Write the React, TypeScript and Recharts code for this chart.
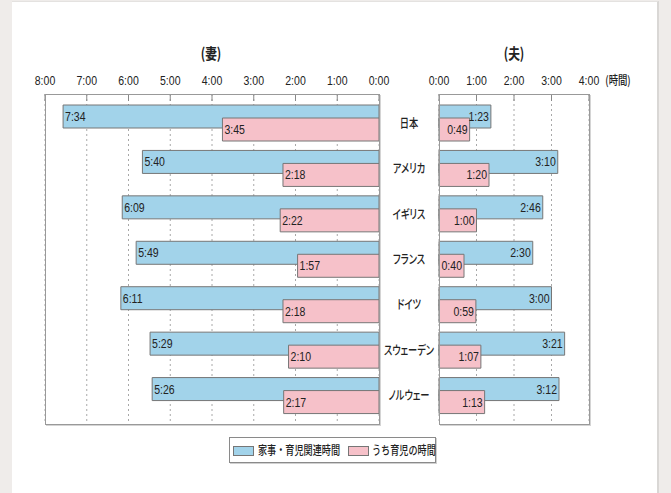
import React from 'react';
import { BarChart, Bar, XAxis, YAxis, CartesianGrid, LabelList } from 'recharts';

const countries = ['日本', 'アメリカ', 'イギリス', 'フランス', 'ドイツ', 'スウェーデン', 'ノルウェー'];
// minutes per day
const wifeTotal = [454, 340, 369, 349, 371, 329, 326];
const wifeChild = [225, 138, 142, 117, 138, 130, 137];
const husbandTotal = [83, 190, 166, 150, 180, 201, 192];
const husbandChild = [49, 80, 60, 40, 59, 67, 73];
const wifeTicks = [0, 60, 120, 180, 240, 300, 360, 420, 480];
const husbandTicks = [0, 60, 120, 180, 240];
const seriesNames = ['家事・育児関連時間', 'うち育児の時間'];
const titles = ['(妻)', '(夫)'];
const unitLabel = '(時間)';

const wifeData = countries.map((c, i) => ({ country: c, total: wifeTotal[i], child: wifeChild[i] }));
const husbandData = countries.map((c, i) => ({ country: c, total: husbandTotal[i], child: husbandChild[i] }));

const BLUE = '#a2d3ea';
const PINK = '#f6c1c9';
const EDGE = '#767676';
const NUM_FONT = '"Liberation Sans", Arial, sans-serif';
const JP_FONT = '"Noto Sans CJK JP", "Noto Sans", sans-serif';

const fmt = (m: number) => `${Math.floor(m / 60)}:${String(m % 60).padStart(2, '0')}`;

// narrow numerals, squeezed around their anchor point
const NumText = ({ x, y, anchor, children }: { x: number; y: number; anchor: 'start' | 'middle' | 'end'; children: React.ReactNode }) => (
  <text transform={`translate(${x},${y}) scale(0.78,1)`} textAnchor={anchor} fontSize={13.5} fill="#222" fontFamily={NUM_FONT}>
    {children}
  </text>
);

const TimeTick = (props: any) => {
  const x = Number(props.x), y = Number(props.y);
  return (
    <g>
      <NumText x={x} y={y} anchor="middle">{fmt(props.payload.value)}</NumText>
      <line x1={x} x2={x} y1={y + 9} y2={y + 16} stroke="#888" />
    </g>
  );
};

const CountryTick = (props: any) => {
  const { x, y, payload } = props;
  const cx = Number(x) + 30;
  return (
    <text
      transform={`translate(${cx},${Number(y) + 5}) scale(0.74,1)`}
      textAnchor="middle"
      fontSize={12.5}
      fontWeight={500}
      fill="#222"
      fontFamily={JP_FONT}
      style={{ fontFeatureSettings: '"palt"' }}
    >
      {payload.value}
    </text>
  );
};

const LeftLabel = (props: any) => {
  const x = Number(props.x), y = Number(props.y), w = Number(props.width), h = Number(props.height);
  return <NumText x={Math.min(x, x + w) + 2} y={y + h / 2 + 4.5} anchor="start">{fmt(props.value)}</NumText>;
};

const RightLabel = (props: any) => {
  const x = Number(props.x), y = Number(props.y), w = Number(props.width), h = Number(props.height);
  return <NumText x={Math.max(x, x + w) - 2} y={y + h / 2 + 4.5} anchor="end">{fmt(props.value)}</NumText>;
};

const frame = (left: number, width: number): React.CSSProperties => ({
  position: 'absolute',
  left,
  top: 94,
  width,
  height: 331,
  border: '1px solid #999',
  boxSizing: 'border-box',
  boxShadow: '1px 1px 0 #d4d4d4',
  pointerEvents: 'none',
});

const jpText = (cx: number, cy: number, size: number, text: string, bold = false): React.ReactNode => (
  <div
    style={{
      position: 'absolute',
      left: cx - 60,
      top: cy - size * 0.7,
      width: 120,
      textAlign: 'center',
      fontFamily: JP_FONT,
      fontSize: size,
      fontWeight: bold ? 700 : 500,
      color: '#222',
      lineHeight: `${size * 1.4}px`,
      transform: 'scaleX(0.78)',
      whiteSpace: 'nowrap',
    }}
  >
    {text}
  </div>
);

export default function App() {
  return (
    <div style={{ position: 'absolute', left: 0, top: 0, width: 671, height: 493, background: '#efecea', overflow: 'hidden' }}>
      <div
        style={{
          position: 'absolute',
          left: 12,
          top: 1,
          width: 645,
          height: 492,
          background: '#fff',
          borderRight: '2px solid #d9d7d5',
          borderTop: '1px solid #e4e2e0',
        }}
      />

      {jpText(211, 52, 15, titles[0], true)}
      {jpText(514, 52, 15, titles[1], true)}
      {jpText(618, 80, 12, unitLabel)}

      <div style={{ position: 'absolute', left: 0, top: 0 }}>
        <BarChart
          width={440}
          height={430}
          data={wifeData}
          layout="vertical"
          barGap={-10}
          margin={{ top: 64, right: 1, bottom: 6, left: 45 }}
        >
          <CartesianGrid horizontal={false} stroke="#a8a8a8" strokeDasharray="2 3" />
          <XAxis
            type="number"
            orientation="top"
            reversed
            domain={[0, 480]}
            ticks={wifeTicks}
            height={30}
            axisLine={false}
            tickLine={false}
            tickSize={0}
            tickMargin={9}
            interval={0}
            tick={<TimeTick />}
          />
          <YAxis
            type="category"
            dataKey="country"
            orientation="right"
            width={60}
            axisLine={false}
            tickLine={false}
            tickSize={0}
            tickMargin={0}
            padding={{ top: 6, bottom: 6 }}
            interval={0}
            tick={<CountryTick />}
          />
          <Bar dataKey="total" name={seriesNames[0]} fill={BLUE} stroke={EDGE} strokeWidth={1} barSize={23} isAnimationActive={false}>
            <LabelList dataKey="total" content={<LeftLabel />} />
          </Bar>
          <Bar dataKey="child" name={seriesNames[1]} fill={PINK} stroke={EDGE} strokeWidth={1} barSize={23} isAnimationActive={false}>
            <LabelList dataKey="child" content={<LeftLabel />} />
          </Bar>
        </BarChart>
      </div>

      <div style={{ position: 'absolute', left: 400, top: 0 }}>
        <BarChart
          width={230}
          height={430}
          data={husbandData}
          layout="vertical"
          barGap={-10}
          margin={{ top: 64, right: 41, bottom: 6, left: 39 }}
        >
          <CartesianGrid horizontal={false} stroke="#a8a8a8" strokeDasharray="2 3" />
          <XAxis
            type="number"
            orientation="top"
            domain={[0, 240]}
            ticks={husbandTicks}
            height={30}
            axisLine={false}
            tickLine={false}
            tickSize={0}
            tickMargin={9}
            interval={0}
            tick={<TimeTick />}
          />
          <YAxis type="category" dataKey="country" hide padding={{ top: 6, bottom: 6 }} />
          <Bar dataKey="total" name={seriesNames[0]} fill={BLUE} stroke={EDGE} strokeWidth={1} barSize={23} isAnimationActive={false}>
            <LabelList dataKey="total" content={<RightLabel />} />
          </Bar>
          <Bar dataKey="child" name={seriesNames[1]} fill={PINK} stroke={EDGE} strokeWidth={1} barSize={23} isAnimationActive={false}>
            <LabelList dataKey="child" content={<RightLabel />} />
          </Bar>
        </BarChart>
      </div>

      <div style={frame(45, 335)} />
      <div style={frame(439, 151)} />

      <div
        style={{
          position: 'absolute',
          left: 229,
          top: 437,
          width: 207,
          height: 26,
          border: '1px solid #8a8a8a',
          boxSizing: 'border-box',
          boxShadow: '1px 1px 0 #d0d0d0',
          background: '#fff',
        }}
      >
        {[BLUE, PINK].map((color, i) => (
          <div key={i} style={{ position: 'absolute', left: i === 0 ? 3 : 118, top: 8, width: 21, height: 10, background: color, border: `1px solid ${EDGE}`, boxSizing: 'border-box' }} />
        ))}
        {seriesNames.map((name, i) => (
          <div
            key={name}
            style={{
              position: 'absolute',
              left: i === 0 ? 28 : 142,
              top: 4,
              fontFamily: JP_FONT,
              fontSize: 12,
              fontWeight: 500,
              lineHeight: '16px',
              color: '#222',
              whiteSpace: 'nowrap',
              transform: 'scaleX(0.76)',
              transformOrigin: 'left center',
            }}
          >
            {name}
          </div>
        ))}
      </div>
    </div>
  );
}
